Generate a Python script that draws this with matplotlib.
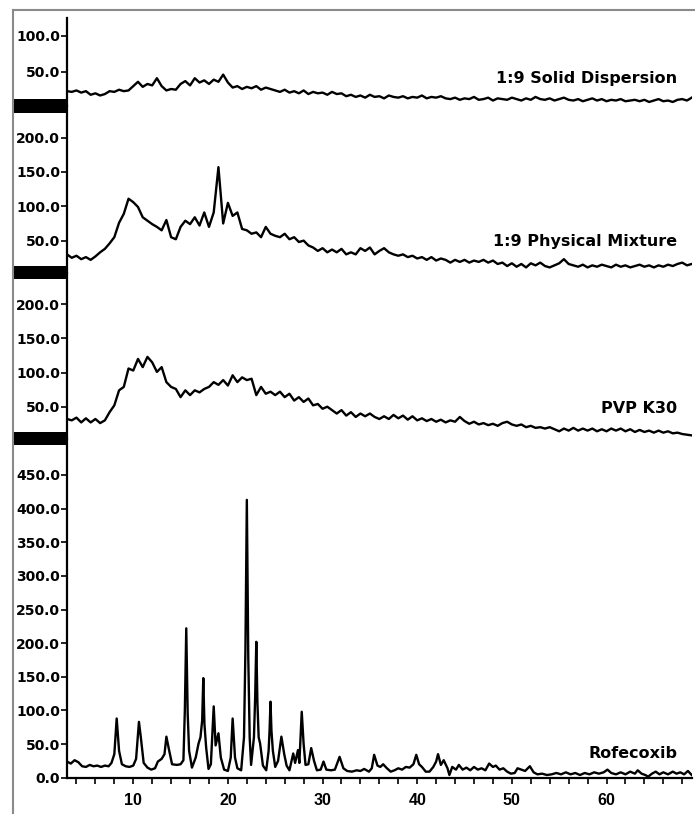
import numpy as np
import matplotlib.pyplot as plt
from matplotlib.patches import Rectangle
from matplotlib.lines import Line2D

# 2-theta grid of the amorphous traces (deg)
two_theta = np.arange(3.0, 69.01, 0.5)

solid_disp = [23, 22, 24, 21, 23, 18, 20, 17, 19, 23, 22, 25, 23, 24,
              30, 36, 29, 33, 31, 41, 30, 24, 26, 25, 33, 37, 31, 41,
              35, 38, 33, 39, 36, 46, 35, 28, 30, 26, 29, 27, 30, 25,
              28, 26, 24, 22, 25, 21, 23, 20, 24, 19, 22, 20, 21, 18,
              22, 19, 20, 16, 18, 15, 17, 14, 18, 15, 16, 13, 17, 15,
              14, 16, 13, 15, 14, 17, 13, 15, 14, 16, 13, 12, 14, 11,
              13, 12, 15, 11, 12, 14, 10, 13, 12, 11, 14, 12, 10, 13,
              11, 15, 12, 11, 13, 10, 12, 14, 11, 10, 12, 9, 11, 13,
              10, 12, 9, 11, 10, 12, 9, 10, 11, 9, 11, 8, 10, 12,
              9, 10, 8, 11, 12, 10, 14]

phys_mix = [30, 25, 28, 23, 26, 22, 27, 33, 38, 46, 55, 76, 89, 111,
            106, 99, 84, 79, 74, 70, 65, 80, 55, 52, 70, 79, 74, 84,
            72, 91, 70, 91, 157, 75, 105, 86, 91, 67, 65, 60, 62, 55,
            70, 60, 57, 55, 60, 52, 55, 48, 50, 43, 40, 35, 39, 33,
            37, 33, 38, 30, 33, 30, 39, 35, 40, 30, 35, 39, 33, 30,
            28, 30, 26, 28, 24, 26, 22, 26, 21, 24, 22, 18, 22, 19,
            22, 18, 21, 19, 22, 18, 21, 16, 18, 13, 17, 12, 16, 11,
            17, 14, 18, 13, 11, 14, 17, 23, 16, 14, 12, 15, 11, 14,
            12, 15, 13, 11, 15, 12, 14, 11, 13, 15, 12, 14, 11, 14,
            12, 15, 13, 16, 18, 14, 16]

pvp_k30 = [32, 30, 34, 27, 33, 27, 32, 26, 30, 42, 52, 74, 79, 106,
           103, 120, 108, 123, 115, 101, 108, 86, 79, 76, 64, 74, 67, 74,
           71, 76, 79, 86, 82, 89, 81, 96, 86, 93, 89, 91, 67, 79,
           69, 72, 67, 72, 64, 69, 59, 64, 57, 62, 52, 54, 47, 50,
           45, 40, 45, 37, 42, 35, 40, 36, 40, 35, 32, 36, 32, 38,
           33, 37, 31, 36, 30, 33, 29, 32, 28, 31, 27, 30, 28, 35,
           29, 25, 28, 24, 26, 23, 25, 22, 26, 28, 24, 22, 24, 20,
           22, 19, 20, 18, 20, 17, 14, 18, 15, 19, 15, 18, 15, 18,
           14, 17, 14, 18, 15, 18, 14, 17, 13, 16, 13, 15, 12, 15,
           12, 14, 11, 12, 10, 9, 8]

# crystalline drug, sharp peaks -> own x positions
rof_x = [3.0, 3.4, 3.8, 4.2, 4.6, 5.0, 5.4, 5.8, 6.2, 6.6, 7.0, 7.4, 7.7, 8.0, 8.25, 8.5, 8.8,
         9.2, 9.6, 10.0, 10.3, 10.6, 10.8, 11.1, 11.5, 11.9, 12.3, 12.6, 13.0, 13.3, 13.5, 13.8,
         14.1, 14.6, 15.0, 15.3, 15.45, 15.6, 15.75, 15.9, 16.2, 16.6, 16.9, 17.1, 17.28, 17.4,
         17.52, 17.7, 17.95, 18.2, 18.5, 18.7, 19.0, 19.25, 19.6, 20.0, 20.3, 20.5, 20.75, 21.0,
         21.4, 21.7, 21.85, 22.0, 22.15, 22.3, 22.45, 22.75, 22.88, 23.0, 23.12, 23.25, 23.4,
         23.7, 24.05, 24.3, 24.4, 24.5, 24.6, 24.75, 25.0, 25.3, 25.65,
         25.95, 26.2, 26.5, 26.9, 27.1, 27.4, 27.55, 27.8, 28.0, 28.2, 28.5, 28.8, 29.1, 29.4,
         29.8, 30.1, 30.4, 30.9, 31.3, 31.8, 32.2, 32.6, 33.1, 33.6, 34.0, 34.4, 34.9, 35.2,
         35.45, 35.8, 36.1, 36.4, 36.8, 37.2, 37.6, 38.0, 38.4, 38.8, 39.2, 39.6, 39.9, 40.2,
         40.5, 40.9, 41.3, 41.7, 42.0, 42.2, 42.5, 42.8, 43.2, 43.4, 43.7, 44.1, 44.4, 44.8,
         45.2, 45.6, 46.0, 46.4, 46.8, 47.2, 47.6, 48.0, 48.3, 48.7, 49.1, 49.5, 49.9, 50.3,
         50.6, 51.0, 51.4, 51.9, 52.3, 52.7, 53.2, 53.7, 54.2, 54.7, 55.2, 55.7, 56.2, 56.7,
         57.2, 57.7, 58.2, 58.7, 59.2, 59.7, 60.1, 60.5, 61.0, 61.5, 62.0, 62.5, 63.0, 63.3,
         63.7, 64.1, 64.4, 64.8, 65.2, 65.6, 66.0, 66.5, 67.0, 67.4, 67.8, 68.2, 68.6, 69.0]
rof_y = [24, 21, 26, 23, 17, 16, 19, 17, 18, 16, 18, 17, 22, 35, 88, 40, 20,
         17, 16, 18, 28, 83, 60, 22, 15, 12, 14, 24, 28, 35, 61, 40,
         20, 19, 20, 26, 100, 222, 95, 40, 15, 30, 51, 60, 85, 148,
         80, 45, 13, 20, 106, 48, 66, 30, 12, 10, 30, 88, 30, 14,
         11, 60, 190, 413, 180, 60, 19, 60, 120, 202, 110, 60, 51,
         18, 11, 40, 70, 113, 70, 40, 16, 25, 61,
         35, 18, 11, 36, 22, 41, 22, 98, 50, 19, 20, 44, 25, 11,
         12, 24, 12, 11, 12, 31, 14, 10, 9, 11, 10, 13, 9, 14,
         34, 18, 16, 20, 14, 9, 11, 14, 12, 16, 15, 20, 34, 20,
         16, 9, 9, 16, 24, 35, 19, 26, 14, 4, 16, 12, 19, 12,
         15, 11, 16, 12, 14, 11, 21, 16, 18, 12, 14, 9, 6, 7,
         14, 12, 10, 17, 8, 5, 6, 4, 5, 7, 5, 8, 5, 7,
         4, 7, 5, 8, 6, 8, 12, 7, 5, 8, 5, 9, 6, 11,
         6, 4, 1.5, 6, 9, 5, 8, 5, 9, 6, 8, 5, 10, 4]

labels = ['1:9 Solid Dispersion', '1:9 Physical Mixture', 'PVP K30', 'Rofecoxib']
series = [(two_theta, solid_disp), (two_theta, phys_mix), (two_theta, pvp_k30), (rof_x, rof_y)]
ylims = [(2.4, 124.6), (3.6, 246), (2.7, 246.6), (0, 503.5)]
yticks = [[50, 100], [50, 100, 150, 200], [50, 100, 150, 200], list(range(0, 451, 50))]
label_y = [41, 48.5, 47, 36]

W, H = 695, 814
fig = plt.figure(figsize=(W / 100, H / 100), dpi=100)

# panel edges in pixels from top
edges = [18, 106, 272.5, 439, 777.7]
left, right = 67, 691.7
axes = []
for i in range(4):
    top, bot = edges[i], edges[i + 1]
    ax = fig.add_axes([left / W, 1 - bot / H, (right - left) / W, (bot - top) / H])
    ax.patch.set_alpha(0)
    x, y = series[i]
    ax.plot(x, y, color='black', lw=1.7)
    ax.set_xlim(3, 69)
    ax.set_ylim(*ylims[i])
    ax.set_yticks(yticks[i])
    ax.set_yticklabels(['%.1f' % v for v in yticks[i]])
    for s in ['top', 'right']:
        ax.spines[s].set_visible(False)
    ax.spines['left'].set_linewidth(1.6)
    ax.tick_params(axis='y', direction='out', length=4, width=1.2, pad=1, labelsize=10)
    for t in ax.get_yticklabels():
        t.set_fontweight('bold')
        t.set_family('DejaVu Sans')
    ax.text(67.5, label_y[i], labels[i], ha='right', va='center', fontsize=11.5,
            fontweight='bold', family='DejaVu Sans',
            bbox=dict(facecolor='white', edgecolor='none', pad=1.5))
    if i < 3:
        ax.spines['bottom'].set_visible(False)
        ax.set_xticks([])
    axes.append(ax)

ax = axes[3]
ax.spines['bottom'].set_linewidth(1.6)
ax.set_xticks([10, 20, 30, 40, 50, 60])
ax.set_xticks(np.arange(4, 69, 2), minor=True)
ax.tick_params(axis='x', which='both', direction='out', length=4, width=1.2, pad=7)
for t in ax.get_xticklabels():
    t.set_fontweight('bold')
    t.set_family('Liberation Sans')
    t.set_fontsize(11.5)

# axis break bars at the panel joins
for e in edges[1:4]:
    fig.add_artist(Rectangle((13 / W, 1 - (e + 6.5) / H), (left - 13) / W, 13 / H,
                             transform=fig.transFigure, color='black', lw=0))

# gray frame of the original figure
fig.add_artist(Line2D([13 / W, 13 / W], [0, 1 - 10 / H], color='#8a8a8a', lw=1.5))
fig.add_artist(Line2D([13 / W, 1], [1 - 10 / H, 1 - 10 / H], color='#8a8a8a', lw=1.5))

fig.savefig('out.png', dpi=100)
